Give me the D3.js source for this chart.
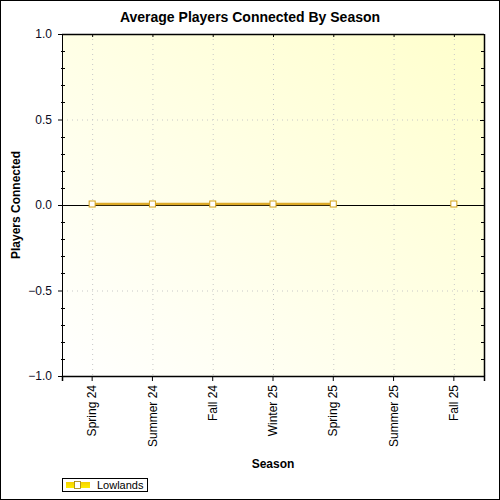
<!DOCTYPE html>
<html>
<head>
<meta charset="utf-8">
<script src="https://cdn.jsdelivr.net/npm/d3@7"></script>
<style>
  body { margin: 0; background: #fff; }
  text { font-family: "Liberation Sans", Arial, sans-serif; }
</style>
</head>
<body>
<svg></svg>
<script>
const width = 500, height = 500;
const margin = { top: 34, right: 16, bottom: 124, left: 62 };

// Data
const seasons = ["Spring 24", "Summer 24", "Fall 24", "Winter 25", "Spring 25", "Summer 25", "Fall 25"];
const lowlands = [0, 0, 0, 0, 0, null, 0];
const yTicks = [-1.0, -0.5, 0.0, 0.5, 1.0];
const seriesName = "Lowlands";

const svg = d3.select("svg").attr("width", width).attr("height", height);

// Outer border
svg.append("rect")
    .attr("x", 0.5).attr("y", 0.5)
    .attr("width", width - 1).attr("height", height - 1)
    .attr("fill", "#fff").attr("stroke", "#000");

const pw = width - margin.left - margin.right;
const ph = height - margin.top - margin.bottom;

const x = d3.scaleBand().domain(seasons).range([margin.left, margin.left + pw]);
const y = d3.scaleLinear().domain([-1, 1]).range([margin.top + ph, margin.top]);
const cx = d => x(d) + x.bandwidth() / 2;

// Background gradient
const defs = svg.append("defs");
const grad = defs.append("linearGradient").attr("id", "bg")
    .attr("x1", "0%").attr("y1", "100%").attr("x2", "100%").attr("y2", "0%");
grad.append("stop").attr("offset", "0%").attr("stop-color", "#ffffff");
grad.append("stop").attr("offset", "100%").attr("stop-color", "#ffffcc");

const lg = defs.append("linearGradient").attr("id", "legline")
    .attr("x1", "0").attr("y1", "0").attr("x2", "0").attr("y2", "1");
lg.append("stop").attr("offset", "0%").attr("stop-color", "#f5d000");
lg.append("stop").attr("offset", "100%").attr("stop-color", "#ffee00");

svg.append("rect")
    .attr("x", margin.left).attr("y", margin.top)
    .attr("width", pw).attr("height", ph)
    .attr("fill", "url(#bg)");

// Grid lines
const grid = svg.append("g").attr("stroke", "#c8c8c8").attr("stroke-dasharray", "1,4");
grid.selectAll(".vg").data(seasons).enter().append("line")
    .attr("x1", d => cx(d) + 0.5).attr("x2", d => cx(d) + 0.5)
    .attr("y1", margin.top).attr("y2", margin.top + ph);
grid.selectAll(".hg").data(yTicks.filter(t => t !== 0 && Math.abs(t) !== 1)).enter().append("line")
    .attr("x1", margin.left).attr("x2", margin.left + pw)
    .attr("y1", d => y(d) + 0.5).attr("y2", d => y(d) + 0.5);

// Y axis (left)
const yAxis = svg.append("g")
    .attr("transform", `translate(${margin.left},0)`)
    .call(d3.axisLeft(y).tickValues(yTicks).tickFormat(d3.format(".1f")).tickSize(4).tickPadding(6));
yAxis.select(".domain").attr("stroke", "#000");
yAxis.selectAll("text").attr("font-size", 12).attr("fill", "#0a0a1e");

// Minor ticks on left and right
const minor = d3.range(-1, 1.0001, 0.1).filter(v => Math.abs(Math.round(v * 10) % 5) !== 0);
svg.append("g").selectAll("line").data(minor).enter().append("line")
    .attr("x1", margin.left - 1).attr("x2", margin.left + 3)
    .attr("y1", d => Math.round(y(d)) + 0.5).attr("y2", d => Math.round(y(d)) + 0.5)
    .attr("stroke", "#000");
svg.append("g").selectAll("line").data(minor).enter().append("line")
    .attr("x1", margin.left + pw - 3).attr("x2", margin.left + pw)
    .attr("y1", d => Math.round(y(d)) + 0.5).attr("y2", d => Math.round(y(d)) + 0.5)
    .attr("stroke", "#000");
svg.append("g").selectAll("line").data(yTicks).enter().append("line")
    .attr("x1", margin.left + pw - 4).attr("x2", margin.left + pw)
    .attr("y1", d => Math.round(y(d)) + 0.5).attr("y2", d => Math.round(y(d)) + 0.5)
    .attr("stroke", "#000");

// Right and top borders
svg.append("line")
    .attr("x1", margin.left + pw + 0.5).attr("x2", margin.left + pw + 0.5)
    .attr("y1", margin.top).attr("y2", margin.top + ph).attr("stroke", "#000").attr("stroke-width", 1.5);
svg.append("line")
    .attr("x1", margin.left).attr("x2", margin.left + pw)
    .attr("y1", margin.top + 0.5).attr("y2", margin.top + 0.5).attr("stroke", "#000").attr("stroke-width", 1.5);

// Top ticks
svg.append("g").selectAll("line").data(seasons).enter().append("line")
    .attr("x1", d => cx(d) + 0.5).attr("x2", d => cx(d) + 0.5)
    .attr("y1", margin.top).attr("y2", margin.top + 3)
    .attr("stroke", "#000");

// X axis (bottom)
const xAxis = svg.append("g")
    .attr("transform", `translate(0,${margin.top + ph})`)
    .call(d3.axisBottom(x).tickSize(5).tickPadding(4));
xAxis.select(".domain").attr("stroke", "#000").attr("stroke-width", 1.5);
xAxis.selectAll(".tick line").attr("stroke", "#000");
xAxis.selectAll("text")
    .attr("font-size", 12)
    .attr("fill", "#000")
    .attr("transform", "rotate(-90)")
    .attr("text-anchor", "end")
    .attr("x", -9)
    .attr("y", 0)
    .attr("dy", "0.35em");

// Zero line
svg.append("line")
    .attr("x1", margin.left).attr("x2", margin.left + pw)
    .attr("y1", y(0) + 0.5).attr("y2", y(0) + 0.5)
    .attr("stroke", "#000").attr("stroke-width", 1.2);

// Series
const pts = seasons.map((s, i) => ({ s, v: lowlands[i] }));
const line = d3.line()
    .defined(d => d.v !== null)
    .x(d => cx(d.s))
    .y(d => y(d.v) - 1);
svg.append("path")
    .datum(pts)
    .attr("fill", "none")
    .attr("stroke", "#dca928")
    .attr("stroke-width", 2.5)
    .attr("d", line);

svg.append("g").selectAll("rect").data(pts.filter(d => d.v !== null)).enter().append("rect")
    .attr("x", d => cx(d.s) - 3).attr("y", d => y(d.v) - 4)
    .attr("width", 6).attr("height", 6)
    .attr("fill", "#fff").attr("stroke", "#d4a017").attr("stroke-width", 1);

// Title
svg.append("text")
    .attr("x", width / 2).attr("y", 22)
    .attr("text-anchor", "middle")
    .attr("font-size", 14).attr("font-weight", "bold")
    .text("Average Players Connected By Season");

// Axis titles
svg.append("text")
    .attr("transform", `translate(20,${margin.top + ph / 2}) rotate(-90)`)
    .attr("text-anchor", "middle")
    .attr("font-size", 12).attr("font-weight", "bold")
    .text("Players Connected");

svg.append("text")
    .attr("x", margin.left + pw / 2).attr("y", 468)
    .attr("text-anchor", "middle")
    .attr("font-size", 12).attr("font-weight", "bold")
    .text("Season");

// Legend
const leg = svg.append("g");
leg.append("rect")
    .attr("x", 62.5).attr("y", 478.5).attr("width", 85).attr("height", 13)
    .attr("fill", "#fff").attr("stroke", "#000");
leg.append("rect")
    .attr("x", 66).attr("y", 482).attr("width", 24).attr("height", 6)
    .attr("fill", "url(#legline)");
leg.append("rect")
    .attr("x", 74.5).attr("y", 481.5).attr("width", 6).attr("height", 7)
    .attr("fill", "#fff").attr("stroke", "#a08000").attr("stroke-width", 0.8);
leg.append("text")
    .attr("x", 97).attr("y", 489)
    .attr("font-size", 11)
    .text(seriesName);
</script>
</body>
</html>
